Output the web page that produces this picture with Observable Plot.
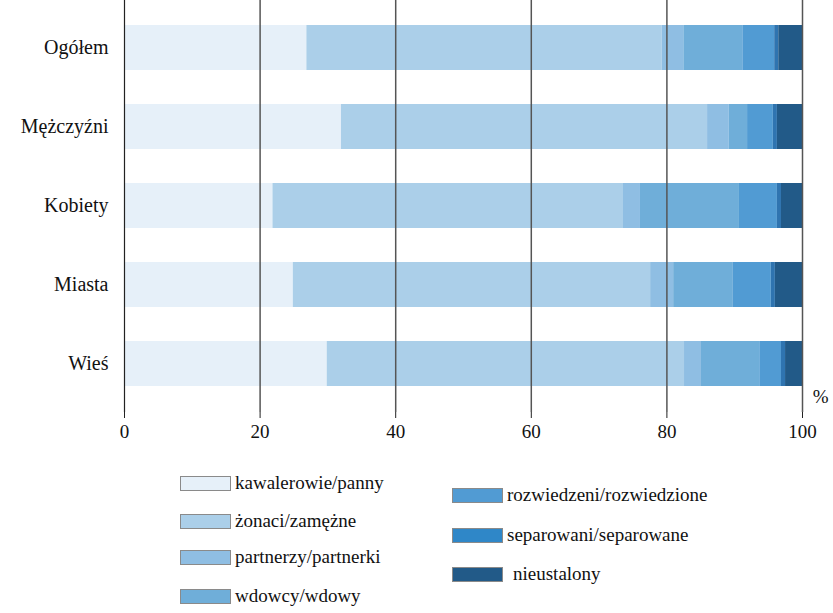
<!DOCTYPE html>
<html><head><meta charset="utf-8">
<script src="https://cdn.jsdelivr.net/npm/d3@7"></script>
<script src="https://cdn.jsdelivr.net/npm/@observablehq/plot@0.6"></script>
<style>
body{margin:0;background:#fff;}
#wrap{position:relative;width:833px;height:613px;}
.leg{position:absolute;display:flex;align-items:center;font-size:19px;color:#111;white-space:nowrap;}
.sw{width:51px;height:15px;border:1px solid #8a8a8a;box-sizing:border-box;margin-right:4px;}
#wrap, svg text, .leg{font-family:"Liberation Serif","Times New Roman",Tinos,"Nimbus Roman",FreeSerif,"Noto Serif","DejaVu Serif",Times,serif;}
</style></head>
<body><div id="wrap"></div>
<script>
const categories = ["Ogółem","Mężczyźni","Kobiety","Miasta","Wieś"];
const series = ["kawalerowie/panny","żonaci/zamężne","partnerzy/partnerki","wdowcy/wdowy","rozwiedzeni/rozwiedzione","separowani/separowane","nieustalony"];
const kawalerowie = [26.9, 32.0, 21.9, 24.9, 29.9];
const zonaci      = [52.4, 54.0, 51.7, 52.7, 52.7];
const partnerzy   = [3.2, 3.2, 2.5, 3.4, 2.5];
const wdowcy      = [8.7, 2.7, 14.6, 8.8, 8.6];
const rozwiedzeni = [4.7, 3.8, 5.6, 5.6, 3.2];
const separowani  = [0.6, 0.6, 0.6, 0.6, 0.6];
const nieustalony = [3.5, 3.7, 3.1, 4.0, 2.5];
const colors = ["#e6f0f9","#abcfe9","#8fbee3","#6faed9","#519bd3","#2f74b0","#225a88"];
const legendColors = ["#e6f0f9","#abcfe9","#8fbee3","#6faed9","#519bd3","#2f87c8","#225a88"];
const xTicks = [0,20,40,60,80,100];

const seriesValues = [kawalerowie, zonaci, partnerzy, wdowcy, rozwiedzeni, separowani, nieustalony];
const data = [];
categories.forEach((c, i) => series.forEach((s, j) => data.push({cat: c, ser: s, val: seriesValues[j][i], k: j})));

const font = '"Liberation Serif","Times New Roman",Tinos,"Nimbus Roman",FreeSerif,"Noto Serif","DejaVu Serif",serif';
const plot = Plot.plot({
  width: 833, height: 445,
  marginLeft: 124, marginRight: 31, marginTop: 0, marginBottom: 33,
  style: {fontFamily: font, fontSize: "19px", color: "#111", background: "#fff"},
  x: {domain: [0, 100], ticks: xTicks, label: null, tickFormat: d => d},
  y: {domain: categories, paddingInner: 0.43, paddingOuter: 0.3225, label: null},
  color: {domain: series, range: colors},
  marks: [
    Plot.barX(data, Plot.stackX({x: "val", y: "cat", fill: "ser", order: "k"})),
    Plot.ruleX([20,40,60,80,100], {stroke: "#555", strokeWidth: 1.5}),
    Plot.ruleX([0], {stroke: "#222", strokeWidth: 1.2}),
    Plot.ruleY([0], {frameAnchor: "bottom", stroke: "#222", strokeWidth: 1.2}),
    Plot.axisX({ticks: xTicks, tickSize: 6, tickPadding: 6, stroke: "#222", fontSize: 19, tickFormat: d => d, label: null}),
    Plot.axisY({tickSize: 0, tickPadding: 16, fontSize: 20, label: null}),
    Plot.text(["%"], {frameAnchor: "bottom-right", dx: 26, dy: -10, fontSize: 19})
  ]
});
const wrap = document.getElementById("wrap");
wrap.appendChild(plot);

const pos = [
  [180,472],[180,510],[180,546],[180,585],
  [452,484],[452,524],[452,563]
];
series.forEach((s, j) => {
  const d = document.createElement("div");
  d.className = "leg";
  d.style.left = pos[j][0] + "px";
  d.style.top = pos[j][1] + "px";
  const sw = document.createElement("div");
  sw.className = "sw";
  sw.style.background = legendColors[j];
  const t = document.createElement("span");
  t.textContent = s;
  if (j === 6) t.style.marginLeft = "6px";
  d.appendChild(sw); d.appendChild(t);
  wrap.appendChild(d);
});
</script></body></html>
